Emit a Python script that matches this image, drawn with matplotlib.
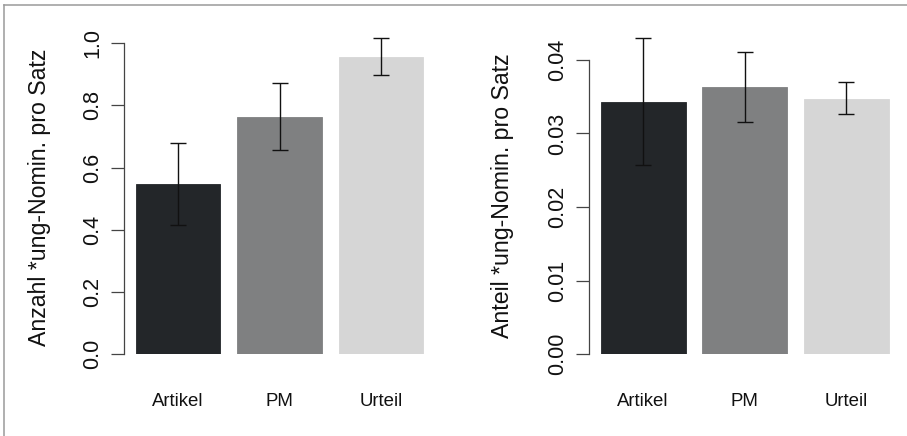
import matplotlib
matplotlib.use("Agg")
import matplotlib.pyplot as plt
from matplotlib.lines import Line2D
from matplotlib.transforms import blended_transform_factory
import numpy as np

plt.rcParams['font.family'] = ['Liberation Sans', 'DejaVu Sans']

categories = ["Artikel", "PM", "Urteil"]
colors = ["#232629", "#7f8081", "#d6d6d6"]

# Left panel: Anzahl
left_values = [0.547, 0.762, 0.957]
left_lower = [0.416, 0.658, 0.899]
left_upper = [0.678, 0.871, 1.017]
left_ticks = [0.0, 0.2, 0.4, 0.6, 0.8, 1.0]
left_ticklabels = ["0.0", "0.2", "0.4", "0.6", "0.8", "1.0"]
left_ylabel = "Anzahl *ung-Nomin. pro Satz"

# Right panel: Anteil
right_values = [0.03424, 0.03628, 0.03469]
right_lower = [0.02571, 0.03160, 0.03261]
right_upper = [0.04300, 0.04113, 0.03696]
right_ticks = [0.00, 0.01, 0.02, 0.03, 0.04]
right_ticklabels = ["0.00", "0.01", "0.02", "0.03", "0.04"]
right_ylabel = "Anteil *ung-Nomin. pro Satz"

W, H = 907, 436
fig = plt.figure(figsize=(W / 100, H / 100), dpi=100)

# bar layout (R barplot style: width 1, space 0.2)
centers = np.array([0.7, 1.9, 3.1])
xlo, xhi = 0.2 - 0.04 * 3.4, 3.6 + 0.04 * 3.4
px_per_unit = 84.7


def panel(axis_x_px, zero_px, px_per_yunit, ylim_top, values, lower, upper,
          ticks, ticklabels, ylabel, ylabel_x_px, ylabel_y_px):
    width_px = (xhi - xlo) * px_per_unit
    height_px = ylim_top * px_per_yunit
    ax = fig.add_axes([axis_x_px / W, 1 - zero_px / H, width_px / W, height_px / H])
    ax.set_xlim(xlo, xhi)
    ax.set_ylim(0, ylim_top)
    ax.patch.set_alpha(0)
    ax.bar(centers, values, width=1.0, color=colors, edgecolor=colors, linewidth=0.6, zorder=2)
    vals = np.array(values)
    yerr = [vals - np.array(lower), np.array(upper) - vals]
    ax.errorbar(centers, vals, yerr=yerr, fmt='none', ecolor='#111111',
                elinewidth=1.0, capsize=5.8, capthick=1.0, zorder=3)
    for s in ['top', 'right', 'bottom']:
        ax.spines[s].set_visible(False)
    ax.spines['left'].set_bounds(ticks[0], ticks[-1])
    ax.spines['left'].set_color('#444444')
    ax.spines['left'].set_linewidth(0.9)
    ax.set_yticks(ticks)
    ax.set_yticklabels(ticklabels, rotation=90, va='center', ha='right')
    ax.tick_params(axis='y', length=9.4, width=0.9, color='#444444', pad=5.5,
                   labelsize=15.5, labelcolor='#111111')
    ax.set_xticks([])
    trans = blended_transform_factory(ax.transData, fig.transFigure)
    for c, name in zip(centers, categories):
        ax.text(c, 1 - 406 / H, name, transform=trans,
                ha='center', va='baseline', fontsize=13.4, color='#111111')
    fig.text(ylabel_x_px / W, 1 - ylabel_y_px / H, ylabel, rotation=90,
             ha='center', va='center', fontsize=16.7, color='#111111')
    return ax


panel(124.0, 354.0, 310.7, 1.1, left_values, left_lower, left_upper,
      left_ticks, left_ticklabels, left_ylabel, 40, 197)
panel(589.3, 354.0, 7350.0, 0.045, right_values, right_lower, right_upper,
      right_ticks, right_ticklabels, right_ylabel, 503, 196)

# outer gray frame lines (top and left)
fig.add_artist(Line2D([4 / W, 1.0], [1 - 5.3 / H, 1 - 5.3 / H], transform=fig.transFigure,
                      color='#9a9a9a', linewidth=1.1))
fig.add_artist(Line2D([4 / W, 4 / W], [0.0, 1 - 5.3 / H], transform=fig.transFigure,
                      color='#9a9a9a', linewidth=1.1))

fig.savefig("out.png", dpi=100)
